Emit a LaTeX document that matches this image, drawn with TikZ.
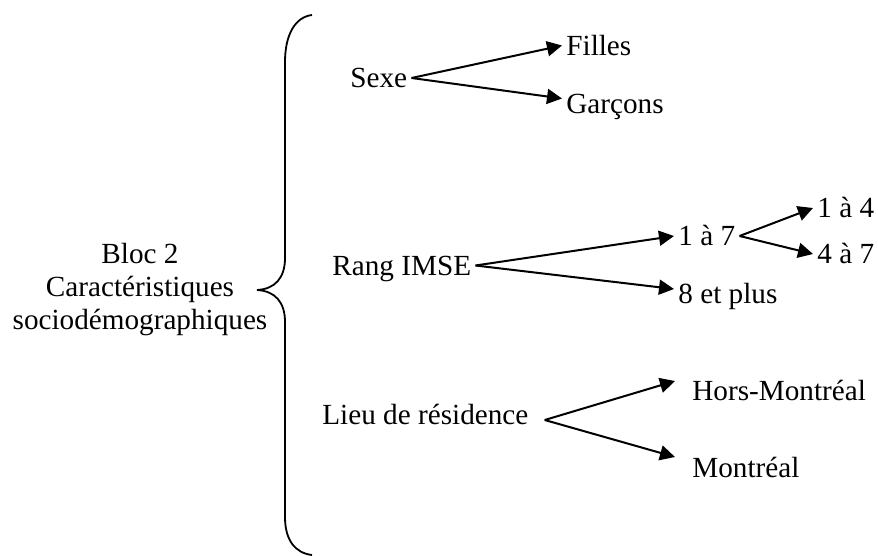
\documentclass[tikz,border=0pt]{standalone}
\usepackage{fontspec}
\setmainfont{Liberation Serif}
\usetikzlibrary{arrows.meta,positioning}

\begin{document}
\begin{tikzpicture}[x=0.5pt,y=-0.5pt,
  lbl/.style={anchor=west, inner xsep=2pt, inner ysep=0pt, text height=9.6pt, text depth=0pt, font=\fontsize{14.6}{16.5}\selectfont},
  arr/.style={-{Triangle[length=7.5pt,width=7.5pt]}, line width=1pt}]
\useasboundingbox (0,0) rectangle (878,556);

% bloc et accolade
\node[align=center, inner sep=0pt, font=\fontsize{14.6}{16.5}\selectfont] (bloc) at (140,290) {Bloc 2\\Caractéristiques\\sociodémographiques};
\draw[line width=0.9pt] (312,15) .. controls (295,17) and (285,35) .. (285,62) -- (285,258)
  .. controls (285,278) and (275,289) .. (257,290) .. controls (275,291) and (285,302) .. (285,322)
  -- (285,517) .. controls (285,540) and (295,553) .. (312,555);

% sexe
\node[lbl] (sexe) at (346,78) {Sexe};
\node[lbl] (filles) at (562,45.5) {Filles};
\node[lbl] (garcons) at (562,103.5) {Garçons};

% rang IMSE
\node[lbl] (rang) at (328,265.5) {Rang IMSE};
\node[lbl] (un7) at (674,236) {1 à 7};
\node[lbl] (huit) at (674,294) {8 et plus};
\node[lbl] (un4) at (813,208) {1 à 4};
\node[lbl] (quatre7) at (813,254) {4 à 7};

% lieu de residence
\node[lbl] (lieu) at (318,414.5) {Lieu de résidence};
\node[lbl] (hors) at (688,391) {Hors-Montréal};
\node[lbl] (montreal) at (688,468) {Montréal};

\draw[arr] (sexe.east) -- (filles.west);
\draw[arr] (sexe.east) -- ([yshift=2.5pt]garcons.west);
\draw[arr] (rang.east) -- (un7.west);
\draw[arr] (rang.east) -- ([yshift=2.5pt]huit.west);
\draw[arr] (un7.east) -- (un4.west);
\draw[arr] (un7.east) -- (quatre7.west);
\draw[arr] ([xshift=6pt,yshift=-2.75pt]lieu.east) -- ([xshift=-6.5pt,yshift=5pt]hors.west);
\draw[arr] ([xshift=6pt,yshift=-2.75pt]lieu.east) -- ([xshift=-6.5pt,yshift=5.5pt]montreal.west);
\end{tikzpicture}
\end{document}
